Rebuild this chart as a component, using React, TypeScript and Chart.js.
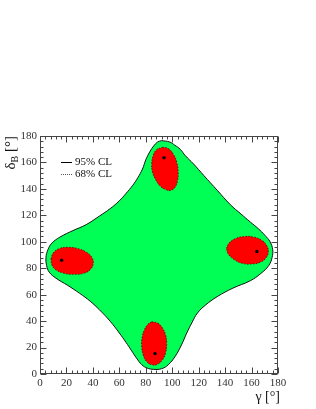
import React, { useEffect, useRef } from "react";
import { Chart, registerables } from "chart.js";

Chart.register(...registerables);

// ---- data ----
const xTickValues = [0, 20, 40, 60, 80, 100, 120, 140, 160, 180];
const yTickValues = [0, 20, 40, 60, 80, 100, 120, 140, 160, 180];

// 95% CL contour (gamma, deltaB)
const region95: [number, number][] = [
  [92, 176.5], [98, 175.5], [102, 173], [106, 170], [110, 165], [116, 159],
  [124, 150], [134, 139], [144, 128], [152, 121], [159, 115], [165, 110],
  [170, 105], [174, 100], [176, 94], [175.5, 88], [173, 82], [167, 76],
  [159, 70.5], [146, 65], [134, 58.5], [125, 52], [119, 46], [115, 39],
  [111, 31], [107, 22], [102, 13], [97, 7], [92, 4], [86, 3.5], [81, 4.5],
  [77, 7], [73, 12], [69, 18], [65, 24], [60, 31], [53, 40], [45, 48.5],
  [38, 55], [30, 61], [21, 67], [12, 72.5], [7, 77], [5, 82], [4.5, 88],
  [6, 94], [9, 99], [15, 103.5], [25, 108.5], [35, 113], [45, 119.5],
  [53, 125], [60, 131], [65, 136.5], [70, 142.5], [74, 148.5], [77.5, 155],
  [80, 162], [83, 168], [86, 172.5], [89, 175.5],
];

// 68% CL contours
const region68Top: [number, number][] = [
  [92.5, 171.5], [97, 170.5], [101, 166], [103.5, 160], [104.5, 153],
  [104, 146], [102, 141], [98.5, 138.8], [95, 139.5], [91, 142], [87.5, 147],
  [85, 153], [84.5, 159], [85.5, 165], [88, 169.5],
];
const region68Right: [number, number][] = [
  [141, 95], [143, 99], [148, 102.5], [155, 104], [162, 103.5], [168, 101],
  [171.5, 97], [172.7, 92.5], [171, 88], [166.5, 84.5], [160, 83.2],
  [153, 83.7], [147, 86.5], [142.5, 90.5],
];
const region68Left: [number, number][] = [
  [8.3, 87], [10, 91.5], [14.5, 94.8], [21, 95.8], [28, 95], [34.5, 92.5],
  [39, 88.5], [40.3, 84], [38.5, 79.5], [33.5, 76.3], [26, 75.4], [18, 76.2],
  [12, 78.8], [9, 82.5],
];
const region68Bottom: [number, number][] = [
  [84.5, 39.5], [89, 38.5], [92.5, 35], [95, 29.5], [95.8, 23], [95, 16],
  [92.5, 10.5], [88.5, 7.2], [84.5, 7], [80.5, 9.5], [78, 14.5], [76.9, 21],
  [77.3, 28], [79, 33.5], [81.5, 37.5],
];

// best-fit points
const bestFit: [number, number][] = [
  [93.8, 163.6], [164, 92.6], [16.4, 86], [87, 15.5],
];

const legendLabels = ["95% CL", "68% CL"];
const xTitle = "γ [°]";
const yTitleMain = "δ";
const yTitleSub = "B";
const yTitleUnit = " [°]";

const SERIF = "'Liberation Serif', 'DejaVu Serif', serif";

const closed = (a: [number, number][]) => {
  const p = a.map(([x, y]) => ({ x, y }));
  p.push({ x: a[0][0], y: a[0][1] });
  return p;
};

const decorPlugin = {
  id: "decor",
  afterDatasetsDraw(chart: any) {
    const ctx = chart.ctx as CanvasRenderingContext2D;
    const xs = chart.scales.x;
    const ys = chart.scales.y;
    const { left, right, top, bottom } = chart.chartArea;
    const L = Math.round(left) + 0.5;
    const R = Math.round(right) - 0.5;
    const T = Math.round(top) + 0.5;
    const B = Math.round(bottom) - 0.5;
    ctx.save();
    ctx.strokeStyle = "#444";
    ctx.lineWidth = 1;
    ctx.strokeRect(L, T, R - L, B - T);
    ctx.beginPath();
    for (let v = 0; v <= 180; v += 4) {
      const len = v % 20 === 0 ? 6 : 3;
      const px = Math.round(xs.getPixelForValue(v)) + 0.5;
      ctx.moveTo(px, B);
      ctx.lineTo(px, B - len);
      ctx.moveTo(px, T);
      ctx.lineTo(px, T + len);
      const py = Math.round(ys.getPixelForValue(v)) + 0.5;
      ctx.moveTo(L, py);
      ctx.lineTo(L + len, py);
      ctx.moveTo(R, py);
      ctx.lineTo(R - len, py);
    }
    ctx.stroke();

    // legend
    const lx0 = 61;
    const lx1 = 72;
    const ly = [162.5, 174.5];
    ctx.strokeStyle = "#000";
    ctx.lineWidth = 1;
    ctx.beginPath();
    ctx.moveTo(lx0, ly[0]);
    ctx.lineTo(lx1, ly[0]);
    ctx.stroke();
    ctx.strokeStyle = "#555";
    ctx.setLineDash([1, 1]);
    ctx.beginPath();
    ctx.moveTo(lx0, ly[1]);
    ctx.lineTo(lx1, ly[1]);
    ctx.stroke();
    ctx.setLineDash([]);
    ctx.fillStyle = "#111";
    ctx.font = `11px ${SERIF}`;
    ctx.textBaseline = "middle";
    ctx.textAlign = "left";
    ctx.fillText(legendLabels[0], 75, ly[0]);
    ctx.fillText(legendLabels[1], 75, ly[1]);

    // x title
    ctx.font = `14px ${SERIF}`;
    ctx.textAlign = "right";
    ctx.textBaseline = "middle";
    ctx.fillText(xTitle, 280, 397);

    // y title (rotated, ending at the top of the axis)
    ctx.translate(11, 136);
    ctx.rotate(-Math.PI / 2);
    ctx.textAlign = "left";
    ctx.textBaseline = "middle";
    const big = `15px ${SERIF}`;
    const small = `10px ${SERIF}`;
    ctx.font = big;
    const w1 = ctx.measureText(yTitleMain).width;
    const w3 = ctx.measureText(yTitleUnit).width;
    ctx.font = small;
    const w2 = ctx.measureText(yTitleSub).width;
    const total = w1 + w2 + w3;
    let cx = -total;
    ctx.font = big;
    ctx.fillText(yTitleMain, cx, 0);
    cx += w1;
    ctx.font = small;
    ctx.fillText(yTitleSub, cx, 4);
    cx += w2;
    ctx.font = big;
    ctx.fillText(yTitleUnit, cx, 0);
    ctx.restore();
  },
};

export default function App() {
  const ref = useRef<HTMLCanvasElement | null>(null);

  useEffect(() => {
    if (!ref.current) return;
    const ellipse = (pts: [number, number][]) => ({
      type: "line" as const,
      data: closed(pts),
      backgroundColor: "#ff0000",
      borderColor: "#5a0000",
      borderWidth: 0.8,
      borderDash: [1.5, 1.5],
      fill: "shape",
      tension: 0.45,
      pointRadius: 0,
      order: 2,
    });
    const chart = new Chart(ref.current, {
      type: "scatter",
      data: {
        datasets: [
          {
            type: "line",
            data: closed(region95),
            backgroundColor: "#00ff55",
            borderColor: "#111",
            borderWidth: 1,
            fill: "shape",
            tension: 0.4,
            pointRadius: 0,
            order: 3,
          } as any,
          ellipse(region68Top) as any,
          ellipse(region68Right) as any,
          ellipse(region68Left) as any,
          ellipse(region68Bottom) as any,
          {
            type: "scatter",
            data: bestFit.map(([x, y]) => ({ x, y })),
            backgroundColor: "#000",
            borderWidth: 0,
            pointRadius: 1.7,
            order: 1,
          } as any,
        ],
      },
      options: {
        responsive: false,
        animation: false,
        events: [],
        layout: { padding: { top: 136, right: 38, left: 0, bottom: 0 } },
        plugins: { legend: { display: false }, tooltip: { enabled: false } },
        scales: {
          x: {
            type: "linear",
            min: 0,
            max: 180,
            afterFit: (s: any) => {
              s.height = 35;
            },
            afterBuildTicks: (s: any) => {
              s.ticks = xTickValues.map((v) => ({ value: v }));
            },
            grid: { display: false, drawTicks: false },
            border: { display: false },
            ticks: {
              padding: 3,
              color: "#333",
              font: { family: SERIF, size: 11 },
              maxRotation: 0,
              autoSkip: false,
            },
          },
          y: {
            type: "linear",
            min: 0,
            max: 180,
            afterFit: (s: any) => {
              s.width = 40;
            },
            afterBuildTicks: (s: any) => {
              s.ticks = yTickValues.map((v) => ({ value: v }));
            },
            grid: { display: false, drawTicks: false },
            border: { display: false },
            ticks: {
              padding: 3,
              color: "#333",
              font: { family: SERIF, size: 11 },
              autoSkip: false,
            },
          },
        },
      } as any,
      plugins: [decorPlugin],
    });
    return () => chart.destroy();
  }, []);

  return (
    <div style={{ position: "absolute", left: 0, top: 0, width: 316, height: 409, background: "#fff" }}>
      <canvas ref={ref} width={316} height={409} style={{ display: "block", width: 316, height: 409 }} />
    </div>
  );
}
